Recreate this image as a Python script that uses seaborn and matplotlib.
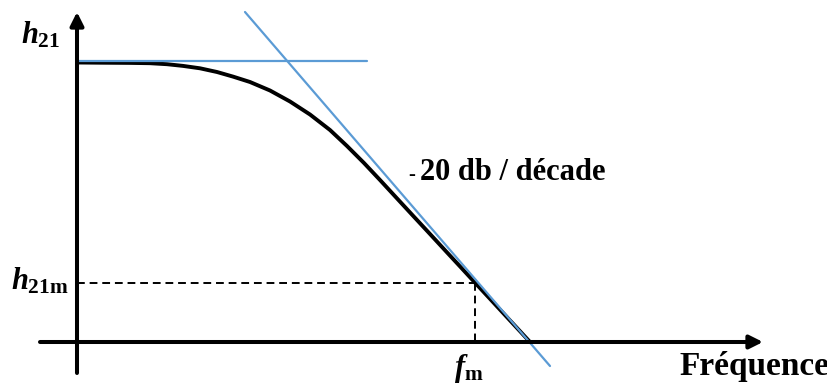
import matplotlib
matplotlib.use('Agg')
import matplotlib.pyplot as plt
import seaborn as sns
import pandas as pd

# gain curve (x = frequency axis, y = gain)
curve_x = [0, 23, 53, 73, 90, 106, 123, 140, 156, 173, 193, 213, 233, 253,
           270, 287, 303, 320, 336, 353, 370, 383, 396, 413, 430, 443, 453]
curve_y = [279.5, 279.3, 279.1, 278.8, 277.8, 276.1, 273.7, 270.0, 265.4,
           260.0, 251.5, 240.5, 227.5, 212.0, 196.0, 179.0, 162.0, 143.6,
           126.3, 108.0, 89.6, 75.6, 61.5, 43.2, 24.8, 10.8, 0]

# asymptotes
flat_x = [0, 290]
flat_y = [281.3, 281.3]
slope_x = [168, 473]
slope_y = [330, -24]

# cut-off marker
fm_x = 398.5
h21m_y = 58.7

sns.set_style('white')
plt.rcParams['font.family'] = ['Liberation Serif', 'DejaVu Serif']
plt.rcParams['text.color'] = 'black'
plt.rcParams['mathtext.fontset'] = 'custom'
plt.rcParams['mathtext.rm'] = 'Liberation Serif:bold'
plt.rcParams['mathtext.bf'] = 'Liberation Serif:bold'
plt.rcParams['mathtext.it'] = 'Liberation Serif:italic:bold'

fig = plt.figure(figsize=(8.28, 3.85), dpi=100)
ax = fig.add_axes([0, 0, 1, 1])
ax.set_xlim(-77, 751)
ax.set_ylim(-43, 342)
ax.axis('off')

blue = '#5B9BD5'
df = pd.DataFrame({'f': curve_x, 'h': curve_y})
sns.lineplot(data=df, x='f', y='h', color='black', lw=2.8, sort=False, ax=ax,
             solid_capstyle='butt', solid_joinstyle='round')
sns.lineplot(x=flat_x, y=flat_y, color=blue, lw=1.6, ax=ax)
sns.lineplot(x=slope_x, y=slope_y, color=blue, lw=1.6, sort=False, ax=ax)

# dashed guides
ax.plot([0, fm_x], [h21m_y, h21m_y], color='black', lw=1.4, ls=(0, (4, 2.5)))
ax.plot([fm_x, fm_x], [h21m_y, 0], color='black', lw=1.4, ls=(0, (4, 2.5)))

# axes with arrows
arrow = dict(arrowstyle='-|>', lw=2.9, color='black', mutation_scale=20,
             shrinkA=0, shrinkB=0)
ax.annotate('', xy=(0, 330), xytext=(0, -31), arrowprops=arrow)
ax.annotate('', xy=(686, 0), xytext=(-37, 0), arrowprops=arrow)

# labels
ax.text(-56, 299, r'$h_{21}$', fontsize=22, ha='left', va='baseline')
ax.text(-66, 52, r'$h_{21\mathrm{m}}$', fontsize=22, ha='left', va='baseline')
ax.text(377, -34, r'$f_{\mathrm{m}}$', fontsize=22, ha='left', va='baseline')
ax.text(602, -33, 'Fréquence', fontsize=24, fontweight='bold', ha='left', va='baseline')
ax.text(331, 162, '-', fontsize=15, ha='left', va='baseline')
ax.text(343, 162, '20 db / décade', fontsize=22, fontweight='bold', ha='left', va='baseline')

fig.savefig('out.png', dpi=100)
